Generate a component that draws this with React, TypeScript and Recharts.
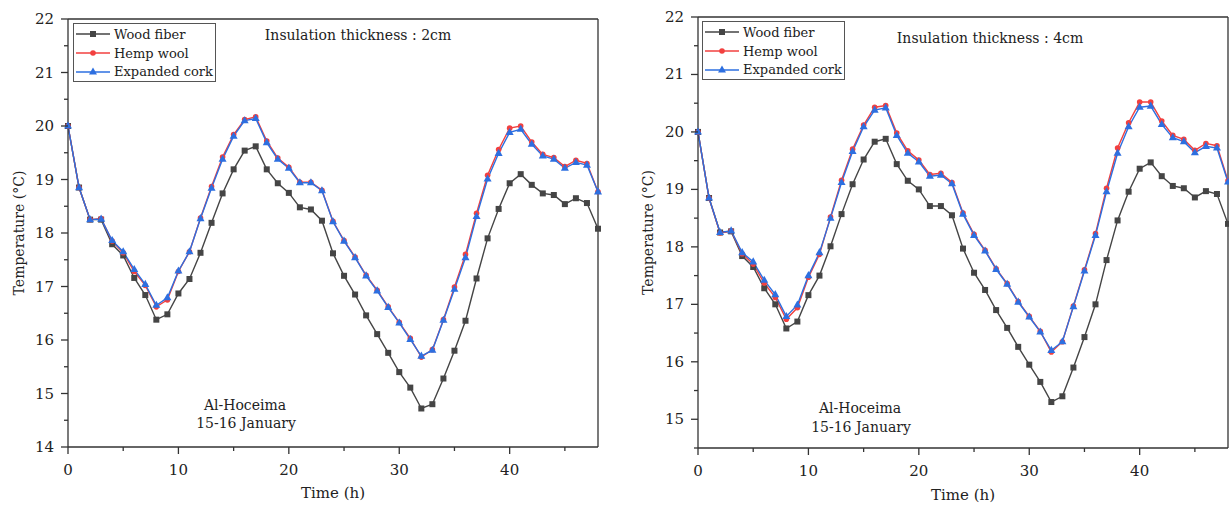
import { LineChart, Line, XAxis, YAxis, ReferenceLine } from 'recharts';

// time axis (h)
const hours = [0, 1, 2, 3, 4, 5, 6, 7, 8, 9, 10, 11, 12, 13, 14, 15, 16, 17, 18, 19, 20, 21, 22, 23, 24,
    25, 26, 27, 28, 29, 30, 31, 32, 33, 34, 35, 36, 37, 38, 39, 40, 41, 42, 43, 44, 45, 46, 47, 48];

// 2 cm insulation
const wood2 = [20.0, 18.85, 18.25, 18.25, 17.79, 17.58, 17.16, 16.84, 16.38, 16.48, 16.87, 17.14, 17.63, 18.19, 18.74, 19.19, 19.54, 19.62,
    19.19, 18.93, 18.75, 18.48, 18.44, 18.23, 17.62, 17.20, 16.85, 16.46, 16.11, 15.76, 15.40, 15.11, 14.72, 14.80, 15.28, 15.80,
    16.36, 17.15, 17.90, 18.45, 18.93, 19.10, 18.90, 18.74, 18.71, 18.54, 18.65, 18.56, 18.08];
const hemp2 = [20.0, 18.85, 18.25, 18.27, 17.85, 17.63, 17.28, 17.02, 16.62, 16.75, 17.28, 17.65, 18.28, 18.87, 19.42, 19.84, 20.12, 20.17,
    19.72, 19.40, 19.23, 18.95, 18.95, 18.80, 18.22, 17.86, 17.55, 17.21, 16.93, 16.62, 16.33, 16.03, 15.68, 15.82, 16.38, 16.99,
    17.60, 18.37, 19.08, 19.56, 19.96, 20.0, 19.70, 19.47, 19.41, 19.24, 19.36, 19.30, 18.77];
const cork2 = [20.0, 18.85, 18.25, 18.26, 17.86, 17.65, 17.32, 17.04, 16.65, 16.79, 17.29, 17.65, 18.27, 18.84, 19.38, 19.81, 20.10, 20.14,
    19.69, 19.38, 19.21, 18.94, 18.94, 18.79, 18.21, 17.85, 17.54, 17.20, 16.92, 16.61, 16.32, 16.01, 15.70, 15.81, 16.37, 16.95,
    17.54, 18.31, 19.01, 19.49, 19.88, 19.94, 19.66, 19.44, 19.38, 19.21, 19.32, 19.27, 18.77];

// 4 cm insulation
const wood4 = [20.0, 18.85, 18.25, 18.27, 17.84, 17.65, 17.28, 17.0, 16.58, 16.70, 17.16, 17.50, 18.01, 18.57, 19.09, 19.52, 19.83, 19.88,
    19.44, 19.15, 19.0, 18.71, 18.71, 18.55, 17.97, 17.55, 17.25, 16.90, 16.59, 16.26, 15.95, 15.65, 15.30, 15.40, 15.90, 16.43,
    17.0, 17.77, 18.46, 18.96, 19.36, 19.47, 19.23, 19.06, 19.02, 18.86, 18.97, 18.92, 18.40];
const hemp4 = [20.0, 18.85, 18.24, 18.28, 17.88, 17.70, 17.37, 17.12, 16.74, 16.94, 17.47, 17.87, 18.52, 19.16, 19.70, 20.12, 20.43, 20.46,
    19.98, 19.67, 19.51, 19.26, 19.28, 19.12, 18.59, 18.22, 17.94, 17.62, 17.36, 17.05, 16.79, 16.53, 16.17, 16.35, 16.97, 17.60,
    18.23, 19.02, 19.72, 20.16, 20.52, 20.52, 20.19, 19.94, 19.87, 19.68, 19.80, 19.76, 19.15];
const cork4 = [20.0, 18.85, 18.25, 18.28, 17.90, 17.74, 17.42, 17.17, 16.79, 16.99, 17.50, 17.90, 18.50, 19.12, 19.66, 20.09, 20.38, 20.42,
    19.94, 19.63, 19.48, 19.23, 19.25, 19.10, 18.57, 18.20, 17.93, 17.61, 17.35, 17.04, 16.78, 16.52, 16.20, 16.35, 16.96, 17.58,
    18.20, 18.96, 19.63, 20.09, 20.43, 20.45, 20.13, 19.90, 19.83, 19.64, 19.75, 19.72, 19.13];

const xTicks = [0, 5, 10, 15, 20, 25, 30, 35, 40, 45];
const yTicksLeft = [14, 14.5, 15, 15.5, 16, 16.5, 17, 17.5, 18, 18.5, 19, 19.5, 20, 20.5, 21, 21.5, 22];
const yTicksRight = [14.5, 15, 15.5, 16, 16.5, 17, 17.5, 18, 18.5, 19, 19.5, 20, 20.5, 21, 21.5, 22];

const FONT = "'DejaVu Serif', 'Liberation Serif', serif";
const AXIS = '#333';
const WOOD = '#454545';
const HEMP = '#f2403f';
const CORK = '#2d6fe0';

const XTick = (props: any) => {
    const { x, y, payload } = props;
    const major = payload.value % 10 === 0;
    return (
        <g>
            <line x1={x} x2={x} y1={y} y2={y + (major ? 7 : 4)} stroke={AXIS} strokeWidth={1.3} />
            {major && (
                <text x={x} y={y + 28} textAnchor="middle" fontSize={15} fill="#222" fontFamily={FONT}>
                    {payload.value}
                </text>
            )}
        </g>
    );
};

const YTick = (props: any) => {
    const { x, y, payload } = props;
    const major = Number.isInteger(payload.value);
    return (
        <g>
            <line x1={x} x2={x - (major ? 7 : 4)} y1={y} y2={y} stroke={AXIS} strokeWidth={1.3} />
            {major && (
                <text x={x - 14} y={y + 5} textAnchor="end" fontSize={15} fill="#222" fontFamily={FONT}>
                    {payload.value}
                </text>
            )}
        </g>
    );
};

const squareDot = (p: any) => (
    <rect key={`s${p.index}`} x={p.cx - 3} y={p.cy - 3} width={6} height={6} fill={WOOD} />
);
const circleDot = (p: any) => (
    <circle key={`c${p.index}`} cx={p.cx} cy={p.cy} r={2.8} fill={HEMP} />
);
const triDot = (p: any) => (
    <polygon
        key={`t${p.index}`}
        points={`${p.cx},${p.cy - 4.5} ${p.cx - 4},${p.cy + 2.6} ${p.cx + 4},${p.cy + 2.6}`}
        fill={CORK}
    />
);

function LegendBox({ left, top }: { left: number; top: number }) {
    const rows = [
        { name: 'Wood fiber', color: WOOD, dot: <rect x={15} y={3} width={6} height={6} fill={WOOD} /> },
        { name: 'Hemp wool', color: HEMP, dot: <circle cx={18} cy={6} r={2.8} fill={HEMP} /> },
        { name: 'Expanded cork', color: CORK, dot: <polygon points="18,1.5 14,8.6 22,8.6" fill={CORK} /> },
    ];
    return (
        <div style={{
            position: 'absolute', left, top, width: 143, height: 59, border: '1px solid #555',
            background: '#fff', fontFamily: FONT, fontSize: 13, color: '#222', boxSizing: 'border-box', paddingTop: 1,
        }}>
            {rows.map(r => (
                <div key={r.name} style={{ display: 'flex', alignItems: 'center', height: 18.7 }}>
                    <svg width={38} height={12} style={{ marginLeft: 1 }}>
                        <line x1={1} x2={35} y1={6} y2={6} stroke={r.color} strokeWidth={1.5} />
                        {r.dot}
                    </svg>
                    <span style={{ marginLeft: 1 }}>{r.name}</span>
                </div>
            ))}
        </div>
    );
}

function Panel({ wood, hemp, cork, yMin, yTicks, top, xAxisH, labelDx, labelDy }: any) {
    const rows = hours.map((h, i) => ({ h, wood: wood[i], hemp: hemp[i], cork: cork[i] }));
    return (
        <LineChart width={612} height={505} data={rows} margin={{ top, right: 14, left: 0, bottom: 0 }}>
            <XAxis
                dataKey="h"
                type="number"
                domain={[0, 48]}
                ticks={xTicks}
                interval={0}
                tickSize={0}
                tickMargin={0}
                tickLine={false}
                tick={<XTick />}
                height={xAxisH}
                stroke={AXIS}
                strokeWidth={1.3}
                label={{ value: 'Time (h)', position: 'center', dy: labelDy, fontSize: 15, fill: '#222', fontFamily: FONT }}
            />
            <YAxis
                type="number"
                domain={[yMin, 22]}
                ticks={yTicks}
                interval={0}
                tickSize={0}
                tickMargin={0}
                tickLine={false}
                tick={<YTick />}
                width={68}
                stroke={AXIS}
                strokeWidth={1.3}
                allowDataOverflow
                label={{ value: 'Temperature (°C)', angle: -90, position: 'center', dx: labelDx, fontSize: 14, fill: '#222', fontFamily: FONT }}
            />
            <ReferenceLine y={22} stroke={AXIS} strokeWidth={1.3} />
            <ReferenceLine x={48} stroke={AXIS} strokeWidth={1.3} />
            <Line dataKey="wood" stroke={WOOD} strokeWidth={1.4} dot={squareDot} isAnimationActive={false} />
            <Line dataKey="hemp" stroke={HEMP} strokeWidth={1.4} dot={circleDot} isAnimationActive={false} />
            <Line dataKey="cork" stroke={CORK} strokeWidth={1.4} dot={triDot} isAnimationActive={false} />
        </LineChart>
    );
}

const note = (left: number, top: number, text: string) => (
    <div style={{ position: 'absolute', left, top, transform: 'translate(-50%, -50%)', whiteSpace: 'nowrap', fontFamily: FONT, fontSize: 14, color: '#222', lineHeight: 1 }}>
        {text}
    </div>
);

export default function App() {
    return (
        <div style={{ position: 'fixed', left: 0, top: 0, width: 1229, height: 505, overflow: 'hidden', background: '#fff' }}>
            <div style={{ position: 'absolute', left: 0, top: 0 }}>
                <Panel wood={wood2} hemp={hemp2} cork={cork2} yMin={14} yTicks={yTicksLeft} top={19} xAxisH={58} labelDx={-15} labelDy={17} />
            </div>
            <div style={{ position: 'absolute', left: 630, top: 0 }}>
                <Panel wood={wood4} hemp={hemp4} cork={cork4} yMin={14.5} yTicks={yTicksRight} top={17} xAxisH={57} labelDx={-16} labelDy={18} />
            </div>
            <LegendBox left={73} top={23} />
            <LegendBox left={702} top={21} />
            {note(358, 35, 'Insulation thickness : 2cm')}
            {note(990, 38, 'Insulation thickness : 4cm')}
            {note(245, 405, 'Al-Hoceima')}
            {note(246, 423, '15-16 January')}
            {note(860, 408, 'Al-Hoceima')}
            {note(861, 427, '15-16 January')}
        </div>
    );
}
